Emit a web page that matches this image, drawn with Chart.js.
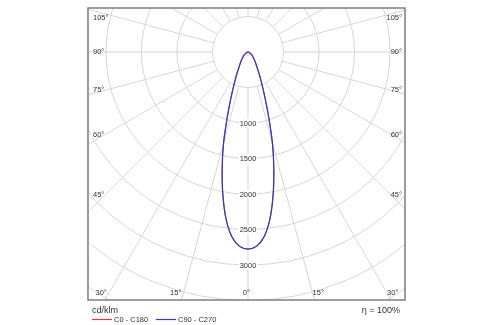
<!DOCTYPE html>
<html>
<head>
<meta charset="utf-8">
<script src="https://cdn.jsdelivr.net/npm/chart.js@4/dist/chart.umd.min.js"></script>
<style>
  html, body { margin: 0; padding: 0; background: #fff; }
  #wrap { width: 500px; height: 325px; }
</style>
</head>
<body>
<div id="wrap"><canvas id="ldc" width="500" height="325"></canvas></div>
<script>
// gamma angles in degrees from nadir, intensities in cd/klm
const gammaAngles = [0, 2.5, 5, 7.5, 10, 12.5, 15, 17.5, 20, 22.5, 25, 27.5, 30, 35, 40, 45, 50, 55, 60, 70, 80, 90];
const intensityC0 = [2775, 2740, 2610, 2370, 2040, 1680, 1330, 980, 720, 540, 420, 330, 260, 185, 135, 100, 75, 55, 40, 20, 8, 0];
const intensityC90 = [2775, 2740, 2610, 2370, 2040, 1680, 1330, 980, 720, 540, 420, 330, 260, 185, 135, 100, 75, 55, 40, 20, 8, 0];

// grid
const ringValues = [500, 1000, 1500, 2000, 2500, 3000, 3500, 4000, 4500, 5000];
const ringLabels = [1000, 1500, 2000, 2500, 3000];
const spokeAngles = [0, 15, 30, 45, 60, 75, 90, 105, 120, 135, 150, 165, 180, 195, 210, 225, 240, 255, 270, 285, 300, 315, 330, 345];
const angleLabels = [0, 15, 30, 45, 60, 75, 90, 105];

const legendNames = ['C0 - C180', 'C90 - C270'];
const unitText = 'cd/klm';
const efficiencyText = 'η = 100%';

const RED = '#d23c3c';
const BLUE = '#4036b4';
const GRID = '#d6d6d6';
const TEXT = '#333333';

// polar (gamma, I) -> x/y, nadir pointing down; C-plane halves mirrored left/right
function curvePoints(vals) {
  const pts = [];
  for (let i = gammaAngles.length - 1; i > 0; i--) {
    const t = -gammaAngles[i] * Math.PI / 180;
    pts.push({ x: vals[i] * Math.sin(t), y: -vals[i] * Math.cos(t) });
  }
  for (let i = 0; i < gammaAngles.length; i++) {
    const t = gammaAngles[i] * Math.PI / 180;
    pts.push({ x: vals[i] * Math.sin(t), y: -vals[i] * Math.cos(t) });
  }
  return pts;
}

const polarGrid = {
  id: 'polarGrid',
  beforeDatasetsDraw(chart) {
    const { ctx, chartArea: a, scales } = chart;
    const cx = scales.x.getPixelForValue(0);
    const cy = scales.y.getPixelForValue(0);
    const k = (scales.x.getPixelForValue(1000) - cx) / 1000;

    ctx.save();
    ctx.beginPath();
    ctx.rect(a.left, a.top, a.right - a.left, a.bottom - a.top);
    ctx.clip();
    ctx.strokeStyle = GRID;
    ctx.lineWidth = 1;

    ringValues.forEach(v => {
      ctx.beginPath();
      ctx.arc(cx, cy, v * k, 0, Math.PI * 2);
      ctx.stroke();
    });

    const r0 = ringValues[0] * k;
    const r1 = ringValues[ringValues.length - 1] * k;
    spokeAngles.forEach(g => {
      const t = g * Math.PI / 180;
      const sx = Math.sin(t), sy = Math.cos(t);
      ctx.beginPath();
      ctx.moveTo(cx + sx * r0, cy + sy * r0);
      ctx.lineTo(cx + sx * r1, cy + sy * r1);
      ctx.stroke();
    });

    // ring values on the nadir spoke
    ctx.font = '7.5px "Liberation Sans", Arial, sans-serif';
    ctx.textAlign = 'center';
    ctx.textBaseline = 'middle';
    ringLabels.forEach(v => {
      const y = cy + v * k;
      const w = ctx.measureText(String(v)).width;
      ctx.fillStyle = '#fff';
      ctx.fillRect(cx - w / 2 - 1, y - 4.5, w + 2, 9);
      ctx.fillStyle = TEXT;
      ctx.fillText(String(v), cx, y + 0.5);
    });

    // angle labels along the frame
    ctx.font = '7.5px "Liberation Sans", Arial, sans-serif';
    const inL = a.left + 17, inR = a.right - 14, inB = a.bottom - 7, topMin = a.top + 10;
    angleLabels.forEach(g => {
      [-1, 1].forEach(side => {
        if (g === 0 && side === 1) return;
        const t = g * Math.PI / 180;
        const dx = Math.sin(t), dy = Math.cos(t);
        const txt = g + '°';
        const edge = side < 0 ? cx - inL : inR - cx;
        const yAt = dx === 0 ? Infinity : cy + edge * dy / dx;
        let x, y;
        if (yAt <= inB) {
          ctx.textAlign = side < 0 ? 'left' : 'right';
          x = side < 0 ? a.left + 5 : a.right - 3;
          y = Math.max(yAt, topMin);
        } else {
          const xAt = cx + side * (inB - cy) * dx / dy;
          if (g === 0) {
            ctx.textAlign = 'right';
            x = cx + 2;
          } else if (side < 0) {
            ctx.textAlign = 'right';
            x = xAt - 2;
          } else {
            ctx.textAlign = 'left';
            x = xAt;
          }
          y = inB;
        }
        ctx.fillStyle = TEXT;
        ctx.fillText(txt, x, y);
      });
    });
    ctx.restore();
  },
  afterDraw(chart) {
    const { ctx, chartArea: a } = chart;
    ctx.save();
    ctx.strokeStyle = '#7d7d7d';
    ctx.lineWidth = 1.5;
    ctx.strokeRect(a.left, a.top, a.right - a.left, a.bottom - a.top);

    ctx.fillStyle = TEXT;
    ctx.textBaseline = 'middle';
    ctx.font = '9px "Liberation Sans", Arial, sans-serif';
    ctx.textAlign = 'left';
    ctx.fillText(unitText, a.left + 4, 311);
    ctx.textAlign = 'right';
    ctx.fillText(efficiencyText, a.right - 5, 311);

    // legend
    ctx.font = '7.5px "Liberation Sans", Arial, sans-serif';
    ctx.textAlign = 'left';
    const colors = [RED, BLUE];
    const starts = [a.left + 4, a.left + 68];
    legendNames.forEach((name, i) => {
      ctx.strokeStyle = colors[i];
      ctx.lineWidth = 1.2;
      ctx.beginPath();
      ctx.moveTo(starts[i], 319.5);
      ctx.lineTo(starts[i] + 20, 319.5);
      ctx.stroke();
      ctx.fillStyle = TEXT;
      ctx.fillText(name, starts[i] + 22, 320);
    });
    ctx.restore();
  }
};

new Chart(document.getElementById('ldc'), {
  type: 'scatter',
  data: {
    datasets: [
      {
        label: legendNames[0],
        data: curvePoints(intensityC0),
        showLine: true,
        borderColor: RED,
        borderWidth: 0.8,
        pointRadius: 0,
        tension: 0.3,
        order: 1
      },
      {
        label: legendNames[1],
        data: curvePoints(intensityC90),
        showLine: true,
        borderColor: BLUE,
        borderWidth: 1.3,
        pointRadius: 0,
        tension: 0.3,
        order: 0
      }
    ]
  },
  options: {
    responsive: false,
    animation: false,
    devicePixelRatio: 1,
    layout: { padding: { left: 88, right: 95, top: 8, bottom: 25 } },
    scales: {
      x: { type: 'linear', min: -2253, max: 2211, display: false },
      y: { type: 'linear', min: -3493, max: 620, display: false }
    },
    plugins: {
      legend: { display: false },
      tooltip: { enabled: false }
    }
  },
  plugins: [polarGrid]
});
</script>
</body>
</html>
